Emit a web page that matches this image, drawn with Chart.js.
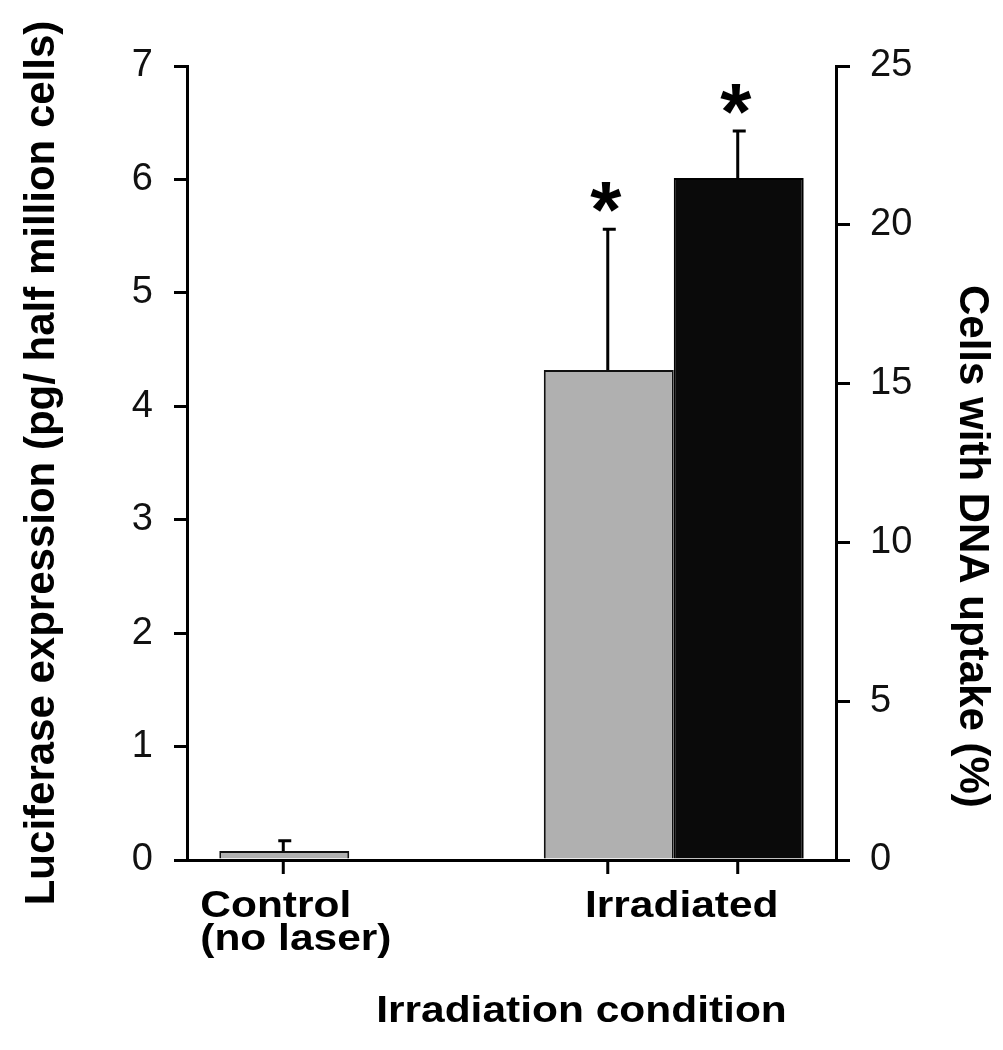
<!DOCTYPE html>
<html>
<head>
<meta charset="utf-8">
<script src="https://cdn.jsdelivr.net/npm/chart.js@4.4.1/dist/chart.umd.min.js"></script>
<style>
  html, body { margin: 0; padding: 0; background: #fff; }
</style>
</head>
<body>
<canvas id="c" width="1003" height="1050"></canvas>
<script>
// data
const groups = ['Control', 'Irradiated'];
const groupText = [['Control', '(no laser)'], ['Irradiated']];
const lucVal = [0.08, 4.32];      // pg / half million cells (left axis)
const lucErr = [0.09, 1.24];
const lucStar = [false, true];
const dnaVal = [null, 21.47];     // % cells with DNA uptake (right axis)
const dnaErr = [null, 1.48];
const dnaStar = [false, true];
const leftTicks = [0, 1, 2, 3, 4, 5, 6, 7];
const rightTicks = [0, 5, 10, 15, 20, 25];

const FONT = "'Liberation Sans', Arial, sans-serif";

// draws error bars, stars, x tick marks, category labels and the other titles
const extras = {
    id: 'extras',
    afterDatasetsDraw(chart) {
        const ctx = chart.ctx;
        const area = chart.chartArea;
        const xs = chart.scales.x;
        ctx.save();
        ctx.strokeStyle = '#000';
        ctx.fillStyle = '#000';
        ctx.lineWidth = 3;
        chart.data.datasets.forEach((ds, di) => {
            const meta = chart.getDatasetMeta(di);
            const sc = chart.scales[ds.yAxisID];
            meta.data.forEach((bar, i) => {
                const v = ds.data[i];
                if (v == null) return;
                // tick under the bar
                ctx.beginPath();
                ctx.moveTo(bar.x - 1, area.bottom);
                ctx.lineTo(bar.x - 1, area.bottom + 14);
                ctx.stroke();
                // upper error bar
                const top = sc.getPixelForValue(v + ds.err[i]);
                ctx.beginPath();
                ctx.moveTo(bar.x - 1, bar.y);
                ctx.lineTo(bar.x - 1, top);
                ctx.moveTo(bar.x - 6, top);
                ctx.lineTo(bar.x + 7, top);
                ctx.stroke();
                if (ds.star[i]) {
                    ctx.font = 'bold 80px ' + FONT;
                    ctx.textAlign = 'center';
                    ctx.textBaseline = 'alphabetic';
                    ctx.fillText('*', bar.x - 3, top - 38 + 0.57 * 80);
                }
            });
        });

        // category labels (slightly wide lettering as in the figure)
        ctx.font = 'bold 36px ' + FONT;
        ctx.textBaseline = 'alphabetic';
        const stretch = (txt, x, y, align) => {
            ctx.save();
            ctx.translate(x, y);
            ctx.scale(1.18, 1);
            ctx.textAlign = align;
            ctx.fillText(txt, 0, 0);
            ctx.restore();
        };
        const c0 = xs.getPixelForValue(0);
        groupText[0].forEach((t, k) => stretch(t, c0 - 149, area.bottom + 57 + k * 33, 'left'));
        const c1 = xs.getPixelForValue(1);
        groupText[1].forEach((t, k) => stretch(t, c1 + 8, area.bottom + 57 + k * 33, 'center'));

        // x axis title
        stretch('Irradiation condition', (area.left + area.right) / 2 + 70, area.bottom + 162, 'center');

        // right axis title, reading downwards
        ctx.save();
        ctx.translate(area.right + 124, 285);
        ctx.rotate(Math.PI / 2);
        ctx.font = 'bold 42px ' + FONT;
        ctx.textAlign = 'left';
        ctx.fillText('Cells with DNA uptake (%)', 0, 0);
        ctx.restore();

        ctx.restore();
    }
};

new Chart(document.getElementById('c'), {
    type: 'bar',
    data: {
        labels: groups,
        datasets: [
            {
                label: 'Luciferase expression',
                data: lucVal, err: lucErr, star: lucStar,
                yAxisID: 'y',
                backgroundColor: '#b0b0b0',
                borderColor: '#111',
                borderWidth: 2,
                categoryPercentage: 0.801,
                barPercentage: 1
            },
            {
                label: 'Cells with DNA uptake',
                data: dnaVal, err: dnaErr, star: dnaStar,
                yAxisID: 'y1',
                backgroundColor: '#0a0a0a',
                borderColor: '#000',
                borderWidth: 2,
                categoryPercentage: 0.801,
                barPercentage: 1
            }
        ]
    },
    options: {
        responsive: false,
        animation: false,
        layout: { padding: { top: 66, left: 0, right: 0, bottom: 0 } },
        plugins: { legend: { display: false }, tooltip: { enabled: false } },
        scales: {
            x: {
                type: 'category',
                grid: { display: false },
                ticks: { display: false },
                border: { display: true, color: '#000', width: 3 },
                afterFit: s => { s.height = 190; }
            },
            y: {
                position: 'left',
                min: 0, max: 7,
                afterBuildTicks: s => { s.ticks = leftTicks.map(v => ({ value: v })); },
                afterFit: s => { s.width = 187; },
                grid: { display: true, drawOnChartArea: false, drawTicks: true, tickLength: 13, color: '#000', lineWidth: 3 },
                border: { display: true, color: '#000', width: 3 },
                ticks: { color: '#111', font: { family: FONT, size: 38 }, padding: 21 },
                title: {
                    display: true,
                    text: 'Luciferase expression (pg/ half million cells)',
                    color: '#000',
                    font: { family: FONT, size: 42, weight: 'bold' },
                    padding: { top: 17, bottom: 0 }
                }
            },
            y1: {
                position: 'right',
                min: 0, max: 25,
                afterBuildTicks: s => { s.ticks = rightTicks.map(v => ({ value: v })); },
                afterFit: s => { s.width = 167; },
                grid: { display: true, drawOnChartArea: false, drawTicks: true, tickLength: 14, color: '#000', lineWidth: 3 },
                border: { display: true, color: '#000', width: 3 },
                ticks: { color: '#111', font: { family: FONT, size: 38 }, padding: 20 }
            }
        }
    },
    plugins: [extras]
});
</script>
</body>
</html>
